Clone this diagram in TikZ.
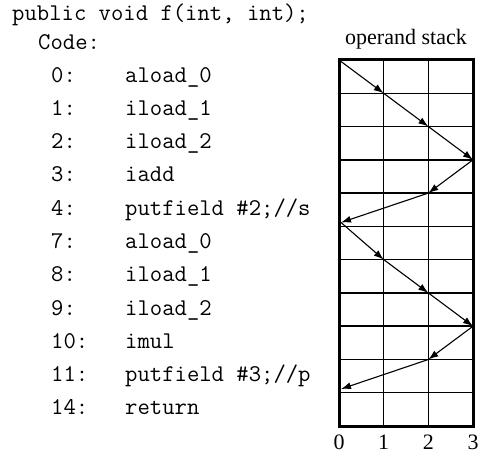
\documentclass[tikz,border=0pt]{standalone}
\usepackage{fontspec}
\setmainfont{Liberation Serif}
\usetikzlibrary{arrows.meta}
\tikzset{
  code/.style={font=\ttfamily\fontsize{24}{24}\selectfont, anchor=base west, inner sep=0pt},
  serif/.style={font=\fontsize{22}{22}\selectfont, inner sep=0pt},
  border/.style={line width=3pt},
  gridline/.style={line width=1.4pt},
  flow/.style={line width=1.1pt, -{Latex[length=10pt,width=7pt]}},
}
\begin{document}
\begin{tikzpicture}[x=1pt,y=-1pt]
\useasboundingbox (0,0) rectangle (486,454);
% code listing
\node[code] (hdr) at (12,21) {public void f(int, int);};
\node[code] (codelbl) at (38,50) {Code:};
\def\rh{33.27}
\foreach \n/\ins [count=\i from 0] in {0:/{aload\_0}, 1:/{iload\_1}, 2:/{iload\_2}, 3:/{iadd}, 4:/{putfield \#2;//s}, 7:/{aload\_0}, 8:/{iload\_1}, 9:/{iload\_2}, 10:/{imul}, 11:/{putfield \#3;//p}, 14:/{return}}{
  \node[code] (num\i) at (51,{60+\rh*(\i+0.5)+5.5}) {\n};
  \node[code] (ins\i) at (125,{60+\rh*(\i+0.5)+5.5}) {\ins};
}
% operand stack
\node[serif, anchor=base] (title) at (406,45) {operand stack};
\foreach \r in {1,...,10}{
  \draw[gridline] (339,{60+\rh*\r}) -- (473,{60+\rh*\r});
}
\draw[gridline] (383.7,60) -- (383.7,426);
\draw[gridline] (428.3,60) -- (428.3,426);
\draw[border] (339,60) rectangle (473,426);
% axis labels
\node[serif, anchor=base] (ax0) at (339,449.5) {0};
\node[serif, anchor=base] (ax1) at (383.7,449.5) {1};
\node[serif, anchor=base] (ax2) at (428.3,449.5) {2};
\node[serif, anchor=base] (ax3) at (473,449.5) {3};
% path vertices
\coordinate (a0) at (339,60);
\coordinate (a1) at (383.7,93.3);
\coordinate (a2) at (428.3,126.5);
\coordinate (a3) at (473,159.8);
\coordinate (a4) at (428.3,193.1);
\coordinate (a5) at (341,222.5);
\coordinate (b1) at (383.7,259.6);
\coordinate (b2) at (428.3,292.9);
\coordinate (b3) at (473,326.2);
\coordinate (b4) at (428.3,359.5);
\coordinate (b5) at (341,389);
\draw[flow] (a0) -- (a1);
\draw[flow] (a1) -- (a2);
\draw[flow] (a2) -- (a3);
\draw[flow] (a3) -- (a4);
\draw[flow] (a4) -- (a5);
\draw[flow] (a5) -- (b1);
\draw[flow] (b1) -- (b2);
\draw[flow] (b2) -- (b3);
\draw[flow] (b3) -- (b4);
\draw[flow] (b4) -- (b5);
\end{tikzpicture}
\end{document}
